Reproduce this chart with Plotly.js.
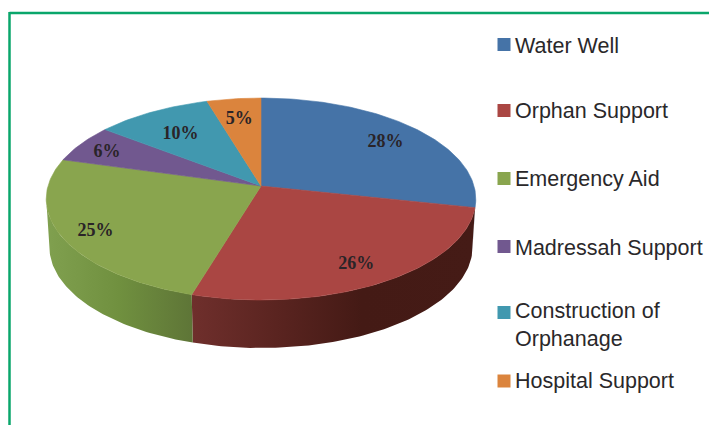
<!DOCTYPE html>
<html>
<head>
<meta charset="utf-8">
<script src="https://cdn.plot.ly/plotly-3.0.1.min.js"></script>
<style>html,body{margin:0;padding:0;background:#fff;overflow:hidden}</style>
</head>
<body>
<div id="chart" style="width:709px;height:425px"></div>
<script>
const categories = ["Water Well", "Orphan Support", "Emergency Aid", "Madressah Support", "Construction of<br>Orphanage", "Hospital Support"];
const values = [28.4, 26.2, 24.8, 6.1, 9.9, 4.6];
const colors = ["#4573a7", "#aa4643", "#89a54e", "#71588f", "#4198af", "#db843d"];
const sideScales = [
  [[0, "#2f4f75"], [1, "#2f4f75"]],
  [[0, "#6f2f2c"], [0.3, "#5a2420"], [0.6, "#441a15"], [1, "#451b16"]],
  [[0, "#80a04f"], [0.5, "#70903f"], [1, "#5e7537"]]
];
const labelRadius = [0.8, 0.8, 0.84, 0.85, 0.72, 0.78];
const legendKeyY = [44.5, 110.5, 178.5, 246.5, 312.5, 381];
const legendTextY = [48, 112.5, 181, 250, 327, 382.5];

// Projection of the tilted pie: centre of the pie and perspective constants.
const cx = 261, cy = 186, A = 213, B = 99.3, K = 0.129, DEPTH = 48, SIDE_X = 0.985, LABEL_DROP = 3;
function proj(deg, r, lower) {
  const t = deg * Math.PI / 180, d = 1 + K * r * Math.cos(t);
  const xs = lower ? SIDE_X : 1;
  return [cx + xs * A * r * Math.sin(t) / d, cy - B * r * Math.cos(t) / d + (lower ? DEPTH : 0)];
}
const total = values.reduce((a, b) => a + b, 0);
const traces = [];
let run = 0;
const spans = values.map(v => { const s = [run / total * 360, (run + v) / total * 360]; run += v; return s; });

// side wall, only the part that faces the viewer
spans.forEach((s, i) => {
  const a = Math.max(s[0], 97), b = Math.min(s[1], 263);
  if (b <= a) return;
  const xs = [], ys = [];
  for (let d = a; d < b; d += 1) { const p = proj(d, 1, false); xs.push(p[0]); ys.push(p[1]); }
  let p = proj(b, 1, false); xs.push(p[0]); ys.push(p[1]);
  for (let d = b; d > a; d -= 1) { p = proj(d, 1, true); xs.push(p[0]); ys.push(p[1]); }
  p = proj(a, 1, true); xs.push(p[0]); ys.push(p[1]);
  xs.push(xs[0]); ys.push(ys[0]);
  traces.push({type: "scatter", mode: "lines", x: xs, y: ys, fill: "toself",
    fillgradient: {type: "horizontal", colorscale: sideScales[i]},
    line: {width: 0, color: "rgba(0,0,0,0)"}, hoverinfo: "skip", showlegend: false});
});

// top face
spans.forEach((s, i) => {
  const xs = [cx], ys = [cy];
  for (let d = s[0]; d < s[1]; d += 1) { const p = proj(d, 1, false); xs.push(p[0]); ys.push(p[1]); }
  const p = proj(s[1], 1, false); xs.push(p[0], cx); ys.push(p[1], cy);
  traces.push({type: "scatter", mode: "lines", x: xs, y: ys, fill: "toself", fillcolor: colors[i],
    line: {width: 0.6, color: colors[i]}, name: categories[i], hoverinfo: "skip", showlegend: false});
});

// percent labels
const mids = spans.map((s, i) => proj((s[0] + s[1]) / 2, labelRadius[i], false));
traces.push({type: "scatter", mode: "text", x: mids.map(p => p[0]), y: mids.map(p => p[1] + LABEL_DROP),
  text: values.map(v => Math.round(v) + "%"), textposition: "middle center",
  textfont: {family: "'Liberation Serif', serif", size: 18, color: "#2a2428"},
  hoverinfo: "skip", showlegend: false, texttemplate: "<b>%{text}</b>"});

// legend
traces.push({type: "scatter", mode: "markers", x: categories.map(() => 504), y: legendKeyY,
  marker: {symbol: "square", size: 13, color: colors, line: {width: 0}}, hoverinfo: "skip", showlegend: false});
traces.push({type: "scatter", mode: "text", x: categories.map(() => 515), y: legendTextY,
  text: categories, textposition: "middle right",
  textfont: {family: "'Liberation Sans', Arial, sans-serif", size: 21.5, color: "#2a282a"},
  hoverinfo: "skip", showlegend: false});

const layout = {
  width: 709, height: 425, margin: {l: 0, r: 0, t: 0, b: 0},
  paper_bgcolor: "#fff", plot_bgcolor: "#fff",
  xaxis: {range: [0, 709], visible: false, fixedrange: true},
  yaxis: {range: [425, 0], visible: false, fixedrange: true},
  showlegend: false,
  shapes: [
    {type: "line", xref: "x", yref: "y", x0: 9.5, x1: 709, y0: 13, y1: 13, line: {color: "#0aa66b", width: 2.5}},
    {type: "line", xref: "x", yref: "y", x0: 9.5, x1: 9.5, y0: 12, y1: 425, line: {color: "#0aa66b", width: 2.5}}
  ]
};
Plotly.newPlot("chart", traces, layout, {displayModeBar: false, staticPlot: true});
</script>
</body>
</html>
